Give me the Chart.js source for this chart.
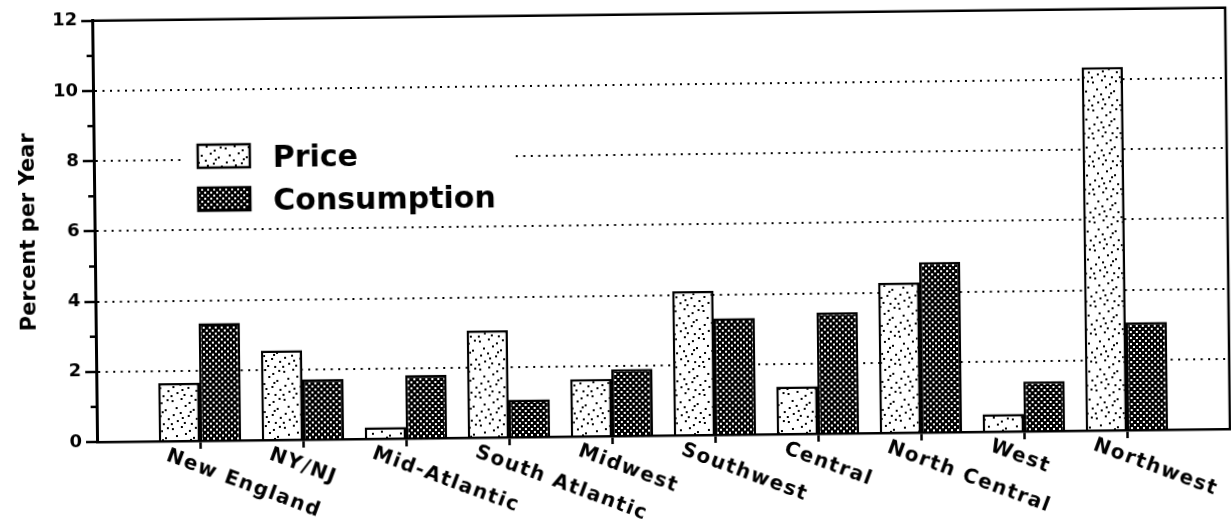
<!DOCTYPE html>
<html>
<head>
<meta charset="utf-8">
<title>Regional growth in price and consumption</title>
<script src="https://cdn.jsdelivr.net/npm/chart.js@4/dist/chart.umd.min.js"></script>
<style>
  html, body { margin: 0; padding: 0; background: #fff; overflow: hidden; }
  #wrap { width: 1231px; height: 523px; }
  /* the printed page sits a little askew */
  #c { display: block; transform: rotate(-0.66deg); transform-origin: 50% 50%; }
</style>
</head>
<body>
<div id="wrap"><canvas id="c" width="1231" height="523"></canvas></div>
<script>
// Regions along the horizontal axis
const regions = ['New England', 'NY/NJ', 'Mid-Atlantic', 'South Atlantic', 'Midwest',
                 'Southwest', 'Central', 'North Central', 'West', 'Northwest'];
// Average annual growth, percent per year
const priceGrowth       = [1.65, 2.55, 0.33, 3.05, 1.63, 4.10, 1.35, 4.27, 0.50, 10.35];
const consumptionGrowth = [3.35, 1.72, 1.80, 1.07, 1.90, 3.32, 3.45, 4.85, 1.42, 3.07];
// Vertical axis
const yTicks = [0, 2, 4, 6, 8, 10, 12];
const yMinor = [1, 3, 5, 7, 9, 11];

const FONT = '"DejaVu Sans", "Liberation Sans", sans-serif';
const canvas = document.getElementById('c');
const ctx0 = canvas.getContext('2d');

// light stipple fill for price bars
function stipplePattern() {
  const t = document.createElement('canvas');
  t.width = 28; t.height = 28;
  const g = t.getContext('2d');
  g.fillStyle = '#fff'; g.fillRect(0, 0, 28, 28);
  g.fillStyle = '#000';
  const dots = [[2,3],[11,1],[19,5],[25,2],[6,10],[15,8],[23,12],[3,17],[10,15],[18,18],
                [26,21],[7,23],[14,25],[21,26],[1,26],[12,20],[20,14]];
  dots.forEach(([x, y]) => g.fillRect(x, y, 2, 2));
  return ctx0.createPattern(t, 'repeat');
}
// dense dark screen for consumption bars
function screenPattern() {
  const t = document.createElement('canvas');
  t.width = 6; t.height = 6;
  const g = t.getContext('2d');
  g.fillStyle = '#000'; g.fillRect(0, 0, 6, 6);
  g.fillStyle = '#fff';
  g.fillRect(1, 1, 2, 2);
  g.fillRect(4, 4, 2, 2);
  return ctx0.createPattern(t, 'repeat');
}

// frame, minor ticks, legend and slanted region names
const decorations = {
  id: 'decorations',
  beforeDatasetsDraw(chart) {
    const { ctx, chartArea: a, scales } = chart;
    ctx.save();
    ctx.strokeStyle = '#000';
    ctx.lineWidth = 2.5;
    ctx.beginPath();
    ctx.moveTo(a.left, a.top); ctx.lineTo(a.right, a.top); ctx.lineTo(a.right, a.bottom);
    ctx.stroke();
    yMinor.forEach(v => {
      const y = scales.y.getPixelForValue(v);
      ctx.beginPath(); ctx.moveTo(a.left - 6, y); ctx.lineTo(a.left, y); ctx.stroke();
    });
    ctx.restore();
  },
  afterDraw(chart) {
    const { ctx, chartArea: a, scales } = chart;
    ctx.save();
    // legend panel
    ctx.fillStyle = '#fff';
    ctx.fillRect(184, 128, 329, 84);
    chart.data.datasets.forEach((ds, i) => {
      const top = 140 + i * 43;
      ctx.fillStyle = ds.backgroundColor;
      ctx.fillRect(199, top, 52, 23);
      ctx.strokeStyle = '#000';
      ctx.lineWidth = 2.5;
      ctx.strokeRect(199, top, 52, 23);
      ctx.fillStyle = '#000';
      ctx.font = 'bold 30px ' + FONT;
      ctx.textAlign = 'left';
      ctx.textBaseline = 'alphabetic';
      ctx.fillText(ds.label, 274, top + 23);
    });
    // region names
    ctx.font = 'bold 20px ' + FONT;
    ctx.letterSpacing = '1.5px';
    ctx.fillStyle = '#000';
    ctx.textAlign = 'left';
    ctx.textBaseline = 'alphabetic';
    regions.forEach((name, i) => {
      const x = scales.x.getPixelForValue(i);
      ctx.save();
      ctx.translate(x - 35, a.bottom + 19);
      ctx.rotate(21 * Math.PI / 180);
      ctx.fillText(name, 0, 0);
      ctx.restore();
    });
    ctx.restore();
  }
};

new Chart(canvas, {
  type: 'bar',
  data: {
    datasets: [
      {
        label: 'Price',
        data: priceGrowth.map((v, i) => ({ x: i, y: v })),
        backgroundColor: stipplePattern(),
        borderColor: '#000',
        borderWidth: 2.5
      },
      {
        label: 'Consumption',
        data: consumptionGrowth.map((v, i) => ({ x: i, y: v })),
        backgroundColor: screenPattern(),
        borderColor: '#000',
        borderWidth: 2.5
      }
    ]
  },
  options: {
    responsive: false,
    devicePixelRatio: 1,
    animation: false,
    categoryPercentage: 0.8,
    barPercentage: 1.0,
    layout: { padding: { top: 14, right: 3, left: 0, bottom: 0 } },
    plugins: { legend: { display: false }, tooltip: { enabled: false } },
    scales: {
      x: {
        type: 'linear',
        min: -1,
        max: 10,
        offset: false,
        afterBuildTicks: s => { s.ticks = regions.map((_, i) => ({ value: i })); },
        afterFit: s => { s.height = 87; },
        ticks: { display: false },
        grid: { offset: false, drawOnChartArea: false, drawTicks: true, tickLength: 8, tickWidth: 2.5, tickColor: '#000' },
        border: { display: true, color: '#000', width: 2.5 }
      },
      y: {
        min: 0,
        max: 12,
        afterBuildTicks: s => { s.ticks = yTicks.map(v => ({ value: v })); },
        afterFit: s => { s.width = 95; },
        ticks: {
          color: '#000',
          padding: 4,
          font: { family: FONT, size: 18, weight: 'bold' }
        },
        grid: { color: '#000', lineWidth: 2, drawTicks: true, tickLength: 11, tickWidth: 2.5, tickColor: '#000' },
        border: { display: true, color: '#000', width: 3, dash: [2, 5.5] },
        title: {
          display: true,
          text: 'Percent per Year',
          color: '#000',
          padding: { top: 17, bottom: 0 },
          font: { family: FONT, size: 21, weight: 'bold' }
        }
      }
    }
  },
  plugins: [decorations]
});
</script>
</body>
</html>
